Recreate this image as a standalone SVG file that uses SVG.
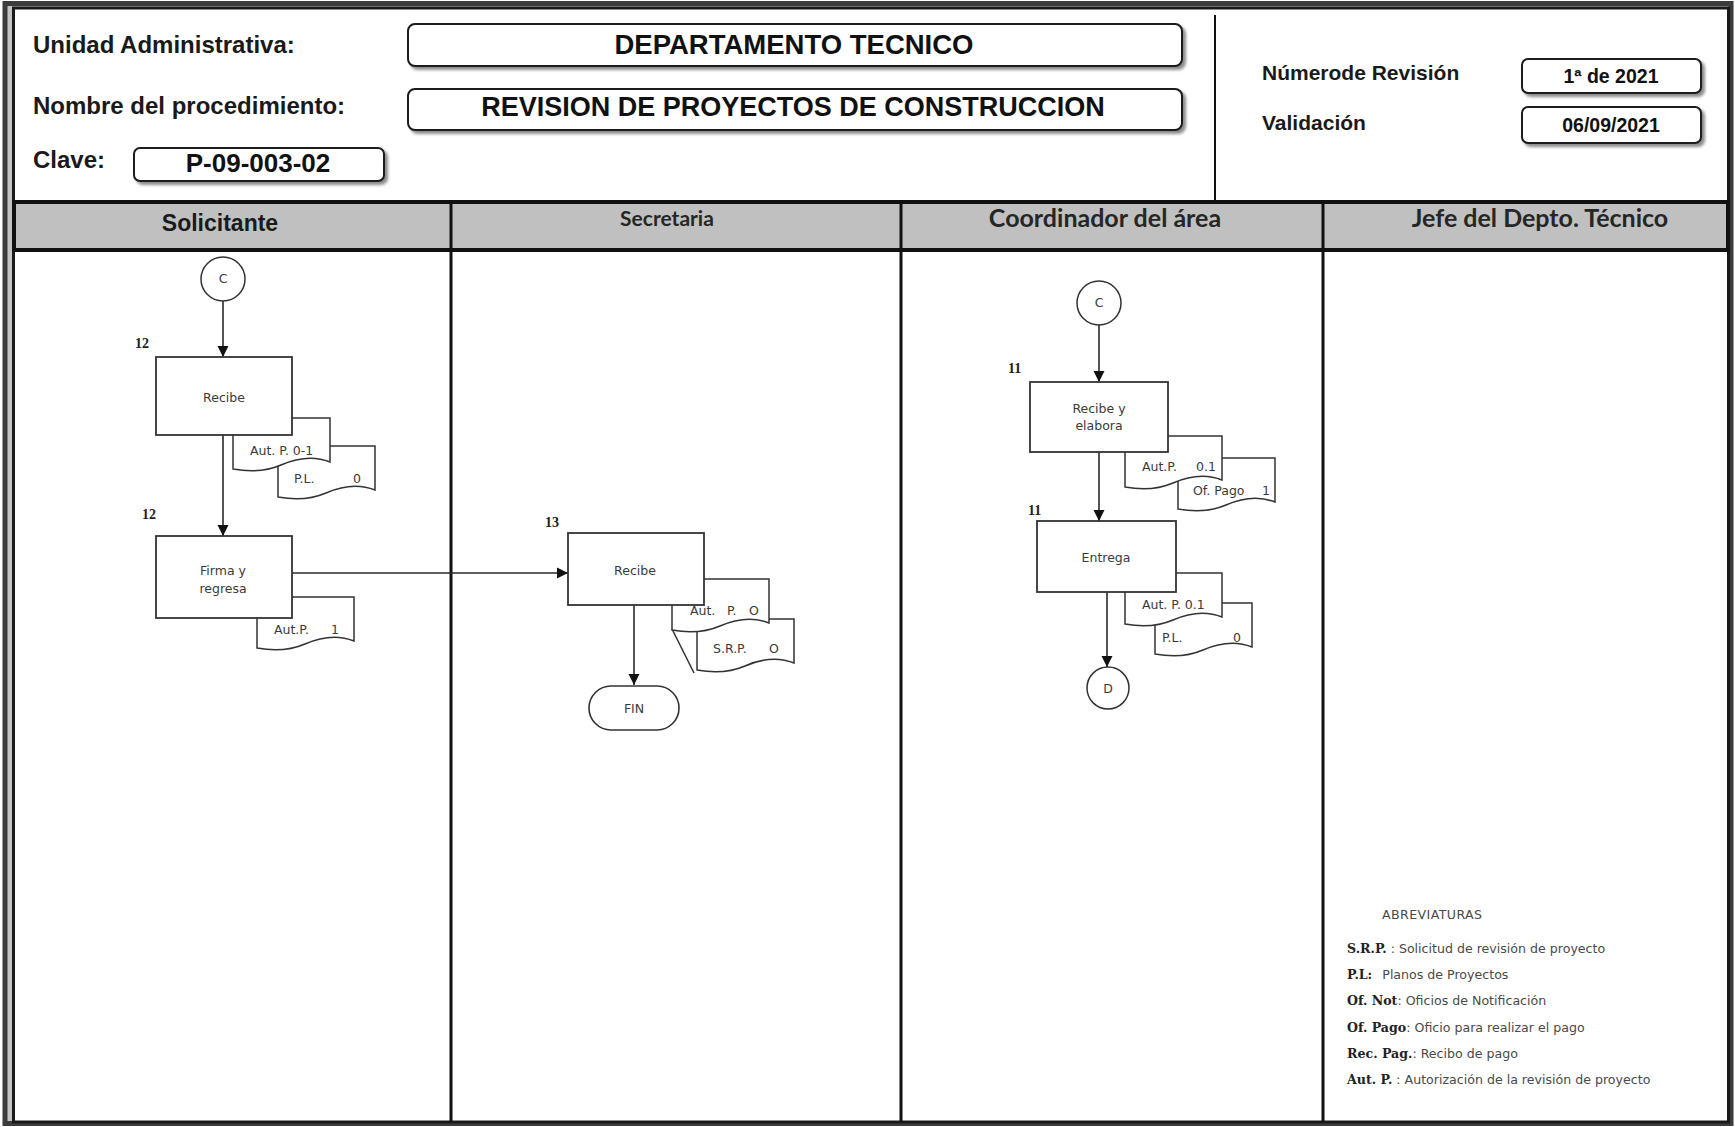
<svg xmlns="http://www.w3.org/2000/svg" width="1735" height="1127" viewBox="0 0 1735 1127">
  <style>
    .lbl { font-family: "Liberation Sans", Arial, sans-serif; font-weight: bold; fill: #1a1a1a; }
    .val { font-family: "Liberation Sans", Arial, sans-serif; font-weight: bold; fill: #111; text-anchor: middle; }
    .hdr { fill: #c0c0c0; stroke: #111; stroke-width: 4; }
    .lane { stroke: #111; stroke-width: 3; fill: none; }
    .field { fill: #fff; stroke: #1a1a1a; stroke-width: 2; }
    .lane-t { font-family: Lato, "Open Sans", sans-serif; font-weight: bold; fill: #262626; text-anchor: middle; }
    .box { fill: #fff; stroke: #333; stroke-width: 1.8; }
    .doc { fill: #fff; stroke: #333; stroke-width: 1.5; }
    .conn { fill: none; stroke: #2a2a2a; stroke-width: 1.6; marker-end: url(#arrow); }
    .st { font-family: "DejaVu Sans", Verdana, sans-serif; font-size: 12.5px; fill: #3a3a3a; text-anchor: middle; }
    .dt { font-family: "DejaVu Sans", Verdana, sans-serif; font-size: 12.5px; fill: #3a3a3a; }
    .num { font-family: "Liberation Serif", "Times New Roman", serif; font-weight: bold; font-size: 14px; fill: #222; }
    .ab { font-family: "DejaVu Sans", Verdana, sans-serif; font-size: 12.6px; fill: #4a4a4a; }
    .abb { font-family: "DejaVu Serif", "Liberation Serif", serif; font-weight: bold; fill: #222; }
  </style>
  <defs>
    <filter id="shadow" x="-5%" y="-30%" width="110%" height="170%">
      <feDropShadow dx="3" dy="3" stdDeviation="1.6" flood-color="#000" flood-opacity="0.45"/>
    </filter>
    <marker id="arrow" markerUnits="userSpaceOnUse" viewBox="0 0 12 12" refX="11" refY="6" markerWidth="12" markerHeight="12" orient="auto">
      <path d="M0,0.5 L11,6 L0,11.5 Z" fill="#111"/>
    </marker>
    <!-- document symbol: flat top, wavy bottom -->
    <path id="doc" d="M0,0 H97 V44 C82,38 64,40 48,47 C34,53 16,54 0,51 Z"/>
  </defs>

  <!-- page frame -->
  <rect x="0" y="0" width="1735" height="1127" fill="#fff"/>
  <rect x="5" y="3.5" width="1726" height="1120" fill="#c4c4c4" stroke="#3c3c3c" stroke-width="5"/>
  <rect x="13.5" y="8" width="1715" height="1114" fill="#fff" stroke="#1a1a1a" stroke-width="3"/>

  <!-- title block -->
  <g id="title-block">
    <text class="lbl" x="33" y="53" font-size="24">Unidad Administrativa:</text>
    <text class="lbl" x="33" y="114" font-size="24">Nombre del procedimiento:</text>
    <text class="lbl" x="33" y="168" font-size="24">Clave:</text>

    <rect class="field" x="408" y="24" width="774" height="42" rx="7" filter="url(#shadow)"/>
    <text class="val" x="794" y="54" font-size="27.5">DEPARTAMENTO TECNICO</text>

    <rect class="field" x="408" y="89" width="774" height="41" rx="7" filter="url(#shadow)"/>
    <text class="val" x="793" y="116" font-size="27">REVISION DE PROYECTOS DE CONSTRUCCION</text>

    <rect class="field" x="134" y="148" width="250" height="33" rx="6" filter="url(#shadow)"/>
    <text class="val" x="258" y="172" font-size="26">P-09-003-02</text>

    <line x1="1215" y1="15" x2="1215" y2="201" stroke="#111" stroke-width="2"/>

    <text class="lbl" x="1262" y="80" font-size="21">Númerode Revisión</text>
    <text class="lbl" x="1262" y="130" font-size="21">Validación</text>

    <rect class="field" x="1522" y="59" width="179" height="34" rx="6" filter="url(#shadow)"/>
    <text class="val" x="1611" y="83" font-size="19.5">1ª de 2021</text>

    <rect class="field" x="1522" y="107" width="179" height="36" rx="6" filter="url(#shadow)"/>
    <text class="val" x="1611" y="132" font-size="19.5">06/09/2021</text>
  </g>

  <!-- swimlanes -->
  <g id="lanes">
    <rect class="hdr" x="14" y="202" width="1714" height="48"/>
    <line class="lane" x1="451" y1="200" x2="451" y2="1122"/>
    <line class="lane" x1="901" y1="200" x2="901" y2="1122"/>
    <line class="lane" x1="1323" y1="200" x2="1323" y2="1122"/>
    <text x="220" y="231" font-family="'Liberation Sans', Arial, sans-serif" font-weight="bold" font-size="23" fill="#1a1a1a" text-anchor="middle">Solicitante</text>
    <text class="lane-t" x="667" y="226" font-size="21">Secretaria</text>
    <text class="lane-t" x="1105" y="227" font-size="25">Coordinador del área</text>
    <text class="lane-t" x="1540" y="227" font-size="25">Jefe del Depto. Técnico</text>
  </g>

  <!-- connectors -->
  <g id="connectors">
    <line class="conn" x1="223" y1="301" x2="223" y2="357"/>
    <line class="conn" x1="223" y1="435" x2="223" y2="536"/>
    <line class="conn" x1="292" y1="573" x2="568" y2="573"/>
    <line class="conn" x1="634" y1="605" x2="634" y2="685"/>
    <line class="conn" x1="1099" y1="325" x2="1099" y2="382"/>
    <line class="conn" x1="1099" y1="452" x2="1099" y2="521"/>
    <line class="conn" x1="1107" y1="592" x2="1107" y2="667"/>
  </g>

  <!-- Solicitante -->
  <g id="c-solicitante">
    <circle cx="223" cy="279" r="22" fill="#fff" stroke="#333" stroke-width="1.5"/>
    <text class="st" x="223" y="283" font-size="11">C</text>
  </g>
  <g id="recibe-solicitante">
    <use href="#doc" class="doc" x="278" y="446"/>
    <use href="#doc" class="doc" x="233" y="418"/>
    <rect class="box" x="156" y="357" width="136" height="78"/>
    <text class="num" x="135" y="348">12</text>
    <text class="st" x="224" y="402">Recibe</text>
    <text class="dt" x="250" y="455">Aut. P. 0-1</text>
    <text class="dt" x="294" y="483">P.L.</text>
    <text class="dt" x="353" y="483">0</text>
  </g>
  <g id="firma-regresa">
    <use href="#doc" class="doc" x="257" y="597"/>
    <rect class="box" x="156" y="536" width="136" height="82"/>
    <text class="num" x="142" y="519">12</text>
    <text class="st" x="223" y="575">Firma y</text>
    <text class="st" x="223" y="593">regresa</text>
    <text class="dt" x="274" y="634">Aut.P.</text>
    <text class="dt" x="331" y="634">1</text>
  </g>

  <!-- Secretaria -->
  <g id="recibe-secretaria">
    <use href="#doc" class="doc" x="697" y="619"/>
    <line x1="672" y1="629" x2="694" y2="673" stroke="#333" stroke-width="1.5"/>
    <use href="#doc" class="doc" x="672" y="579"/>
    <rect class="box" x="568" y="533" width="136" height="72"/>
    <text class="num" x="545" y="527">13</text>
    <text class="st" x="635" y="575">Recibe</text>
    <text class="dt" x="690" y="615">Aut.</text>
    <text class="dt" x="727" y="615">P.</text>
    <text class="dt" x="749" y="615">O</text>
    <text class="dt" x="713" y="653">S.R.P.</text>
    <text class="dt" x="769" y="653">O</text>
  </g>
  <g id="fin">
    <rect x="589" y="686" width="90" height="44" rx="22" fill="#fff" stroke="#333" stroke-width="1.6"/>
    <text class="st" x="634" y="713">FIN</text>
  </g>

  <!-- Coordinador del área -->
  <g id="c-coordinador">
    <circle cx="1099" cy="303" r="22" fill="#fff" stroke="#333" stroke-width="1.5"/>
    <text class="st" x="1099" y="307" font-size="11">C</text>
  </g>
  <g id="recibe-elabora">
    <use href="#doc" class="doc" x="1178" y="458"/>
    <use href="#doc" class="doc" x="1125" y="436"/>
    <rect class="box" x="1030" y="382" width="138" height="70"/>
    <text class="num" x="1008" y="373">11</text>
    <text class="st" x="1099" y="413">Recibe y</text>
    <text class="st" x="1099" y="430">elabora</text>
    <text class="dt" x="1142" y="471">Aut.P.</text>
    <text class="dt" x="1196" y="471">0.1</text>
    <text class="dt" x="1193" y="495">Of. Pago</text>
    <text class="dt" x="1262" y="495">1</text>
  </g>
  <g id="entrega">
    <use href="#doc" class="doc" x="1155" y="603"/>
    <use href="#doc" class="doc" x="1125" y="573"/>
    <rect class="box" x="1037" y="521" width="139" height="71"/>
    <text class="num" x="1028" y="515">11</text>
    <text class="st" x="1106" y="562">Entrega</text>
    <text class="dt" x="1142" y="609">Aut. P. 0.1</text>
    <text class="dt" x="1162" y="642">P.L.</text>
    <text class="dt" x="1233" y="642">0</text>
  </g>
  <g id="d-coordinador">
    <circle cx="1108" cy="688" r="21" fill="#fff" stroke="#333" stroke-width="1.5"/>
    <text class="st" x="1108" y="693">D</text>
  </g>

  <!-- Jefe del Depto. Técnico: abbreviations -->
  <g id="abreviaturas">
    <text class="ab" x="1382" y="919" font-size="14" letter-spacing="0.4">ABREVIATURAS</text>
    <text class="ab" x="1347" y="953"><tspan class="abb">S.R.P.</tspan> : Solicitud de revisión de proyecto</text>
    <text class="ab" x="1347" y="979"><tspan class="abb">P.L:</tspan><tspan dx="10">Planos de Proyectos</tspan></text>
    <text class="ab" x="1347" y="1005"><tspan class="abb">Of. Not</tspan>: Oficios de Notificación</text>
    <text class="ab" x="1347" y="1032"><tspan class="abb">Of. Pago</tspan>: Oficio para realizar el pago</text>
    <text class="ab" x="1347" y="1058"><tspan class="abb">Rec. Pag.</tspan>: Recibo de pago</text>
    <text class="ab" x="1347" y="1084"><tspan class="abb">Aut. P.</tspan> : Autorización de la revisión de proyecto</text>
  </g>
</svg>
